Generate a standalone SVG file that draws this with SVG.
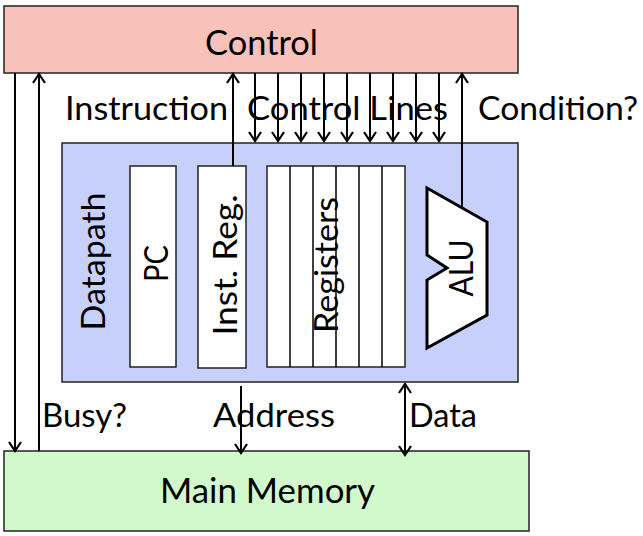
<svg xmlns="http://www.w3.org/2000/svg" width="643" height="536" viewBox="0 0 643 536">
  <defs>
    <marker id="ah" viewBox="-11 -8 13 16" refX="0" refY="0" markerWidth="13" markerHeight="16" markerUnits="userSpaceOnUse" orient="auto-start-reverse">
      <path d="M-9,-6 L0,0 L-9,6" fill="none" stroke="#000" stroke-width="2.2"/>
    </marker>
  </defs>
  <style>
    .box { stroke: #222; stroke-width: 1.5; }
    .wb { fill: #fff; stroke: #222; stroke-width: 1.5; }
    .t { font-family: Lato, "Liberation Sans", sans-serif; font-size: 32px; fill: #000; }
    .big { font-size: 34px; }
    .ln { stroke: #000; stroke-width: 2; fill: none; }
    .arr { stroke: #000; stroke-width: 2; fill: none; marker-end: url(#ah); }
    .arr2 { stroke: #000; stroke-width: 2; fill: none; marker-end: url(#ah); marker-start: url(#ah); }
  </style>

  <g id="control">
    <rect class="box" x="4" y="6" width="514" height="67" fill="#F8C1BA"/>
    <text class="t big" x="261.5" y="55" text-anchor="middle" textLength="113" lengthAdjust="spacingAndGlyphs">Control</text>
  </g>

  <g id="datapath">
    <rect class="box" x="62" y="143" width="456" height="239" fill="#C6D0FA"/>
    <text class="t" transform="translate(105,261.5) rotate(-90)" text-anchor="middle" textLength="138" lengthAdjust="spacingAndGlyphs">Datapath</text>
  </g>

  <g id="pc">
    <rect class="wb" x="130" y="166" width="46" height="201"/>
    <text class="t" transform="translate(168,263.5) rotate(-90)" text-anchor="middle" textLength="37" lengthAdjust="spacingAndGlyphs">PC</text>
  </g>

  <g id="inst-reg">
    <rect class="wb" x="198" y="166" width="48" height="202"/>
    <text class="t" transform="translate(237,265) rotate(-90)" text-anchor="middle" textLength="141" lengthAdjust="spacingAndGlyphs">Inst. Reg.</text>
  </g>

  <g id="registers">
    <rect class="wb" x="267" y="166" width="138" height="201"/>
    <g class="ln" style="stroke-width:1.5">
      <line x1="290" y1="166" x2="290" y2="367"/>
      <line x1="313" y1="166" x2="313" y2="367"/>
      <line x1="336" y1="166" x2="336" y2="367"/>
      <line x1="359" y1="166" x2="359" y2="367"/>
      <line x1="382" y1="166" x2="382" y2="367"/>
    </g>
    <text class="t" transform="translate(338,265) rotate(-90)" text-anchor="middle" textLength="136" lengthAdjust="spacingAndGlyphs">Registers</text>
  </g>

  <g id="alu">
    <polygon points="427,188 487,222 487,315 427,348 427,280 447,268 427,255" fill="#fff" stroke="#000" stroke-width="3" stroke-linejoin="miter"/>
    <text class="t" transform="translate(473,268) rotate(-90)" text-anchor="middle" textLength="57" lengthAdjust="spacingAndGlyphs">ALU</text>
  </g>

  <g id="main-memory">
    <rect class="box" x="4" y="451" width="525" height="80" fill="#D1F9CC"/>
    <text class="t big" x="267.5" y="503" text-anchor="middle" textLength="215" lengthAdjust="spacingAndGlyphs">Main Memory</text>
  </g>

  <g id="labels">
    <text class="t" x="65" y="120" textLength="163" lengthAdjust="spacingAndGlyphs">Instruction</text>
    <text class="t" x="247" y="120" textLength="201" lengthAdjust="spacingAndGlyphs">Control Lines</text>
    <text class="t" x="478" y="120" textLength="160" lengthAdjust="spacingAndGlyphs">Condition?</text>
    <text class="t" x="42" y="427" textLength="85" lengthAdjust="spacingAndGlyphs">Busy?</text>
    <text class="t" x="213" y="427" textLength="122" lengthAdjust="spacingAndGlyphs">Address</text>
    <text class="t" x="409" y="427" textLength="68" lengthAdjust="spacingAndGlyphs">Data</text>
  </g>

  <g id="connectors">
    <line class="arr" x1="15" y1="73" x2="15" y2="451"/>
    <line class="arr" x1="39" y1="451" x2="39" y2="74"/>
    <line class="arr" x1="233" y1="166" x2="233" y2="74"/>
    <line class="arr" x1="462" y1="208" x2="462" y2="74"/>
    <line class="arr" x1="255" y1="73" x2="255" y2="141"/>
    <line class="arr" x1="278" y1="73" x2="278" y2="141"/>
    <line class="arr" x1="301" y1="73" x2="301" y2="141"/>
    <line class="arr" x1="324" y1="73" x2="324" y2="141"/>
    <line class="arr" x1="347" y1="73" x2="347" y2="141"/>
    <line class="arr" x1="370" y1="73" x2="370" y2="141"/>
    <line class="arr" x1="393" y1="73" x2="393" y2="141"/>
    <line class="arr" x1="416" y1="73" x2="416" y2="141"/>
    <line class="arr" x1="439" y1="73" x2="439" y2="141"/>
    <line class="arr" x1="241" y1="386" x2="241" y2="453"/>
    <line class="arr2" x1="405" y1="384" x2="405" y2="455"/>
  </g>
</svg>
